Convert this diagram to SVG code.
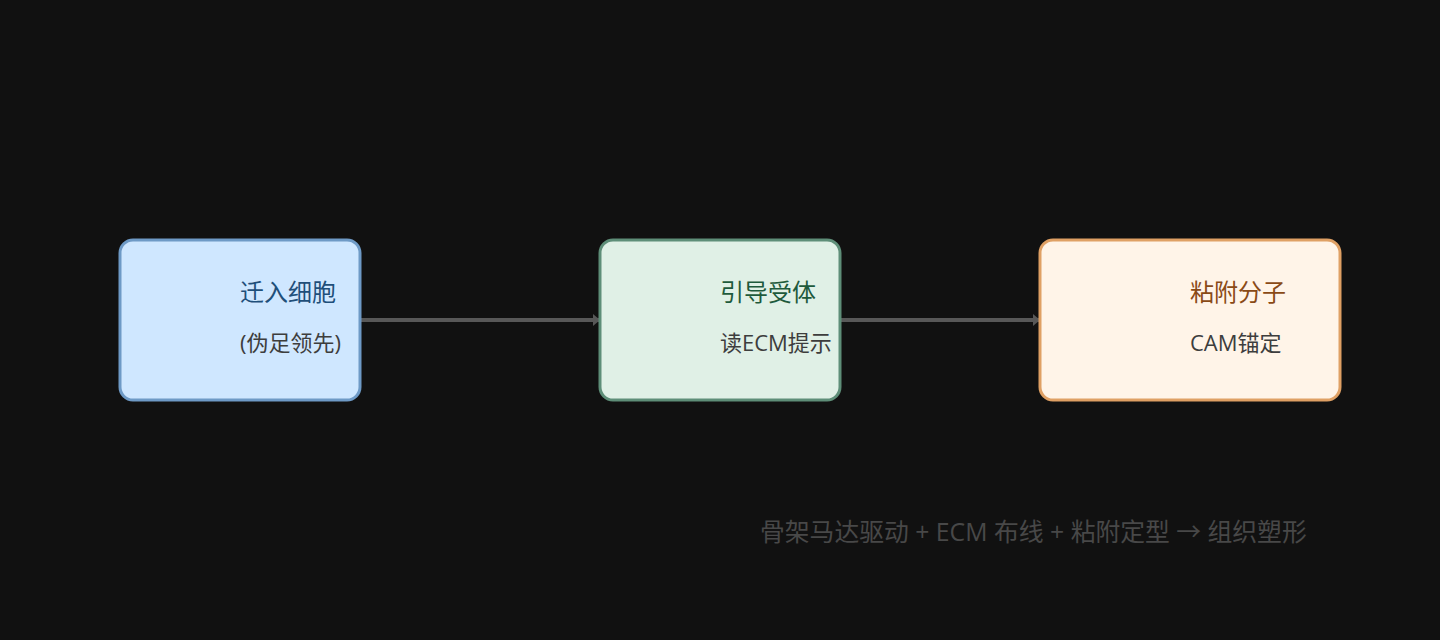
<svg xmlns="http://www.w3.org/2000/svg" width="1440" height="640" viewBox="0 0 1440 640">
<defs>
<style>
.box{stroke-width:3}
.t{font-family:"Open Sans","Noto Sans CJK SC",sans-serif;font-size:24px}
.s{font-family:"Open Sans","Noto Sans CJK SC",sans-serif;font-size:22px;fill:#3d3d3d}
.edge{stroke:#585858;stroke-width:4;fill:none}
.note{font-family:"Open Sans","Noto Sans CJK SC",sans-serif;font-size:24.8px;fill:#484848}
</style>
<marker id="ah" viewBox="0 0 7 12" refX="7" refY="6" markerWidth="7" markerHeight="12" markerUnits="userSpaceOnUse" orient="auto">
<path d="M0,0 L7,6 L0,12 z" fill="#585858"/>
</marker>
</defs>
<rect width="1440" height="640" fill="#111111"/>
<g id="connectors">
<line class="edge" x1="360" y1="320" x2="600" y2="320" marker-end="url(#ah)"/>
<line class="edge" x1="840" y1="320" x2="1040" y2="320" marker-end="url(#ah)"/>
</g>
<g id="node1">
<rect class="box" x="120" y="240" width="240" height="160" rx="13" fill="#cfe7ff" stroke="#6e9ac6"/>
<text class="t" x="240" y="301" fill="#1f4f7a">迁入细胞</text>
<text class="s" x="240" y="351">(伪足领先)</text>
</g>
<g id="node2">
<rect class="box" x="600" y="240" width="240" height="160" rx="13" fill="#e0f0e6" stroke="#5e8e78"/>
<text class="t" x="720" y="301" fill="#1e5a3c">引导受体</text>
<text class="s" x="720" y="351">读ECM提示</text>
</g>
<g id="node3">
<rect class="box" x="1040" y="240" width="300" height="160" rx="13" fill="#fff4e8" stroke="#dfa064"/>
<text class="t" x="1190" y="301" fill="#8a4a16">粘附分子</text>
<text class="s" x="1190" y="351">CAM锚定</text>
</g>
<text class="note" x="760" y="541">骨架马达驱动 + ECM 布线 + 粘附定型 → 组织塑形</text>
</svg>
